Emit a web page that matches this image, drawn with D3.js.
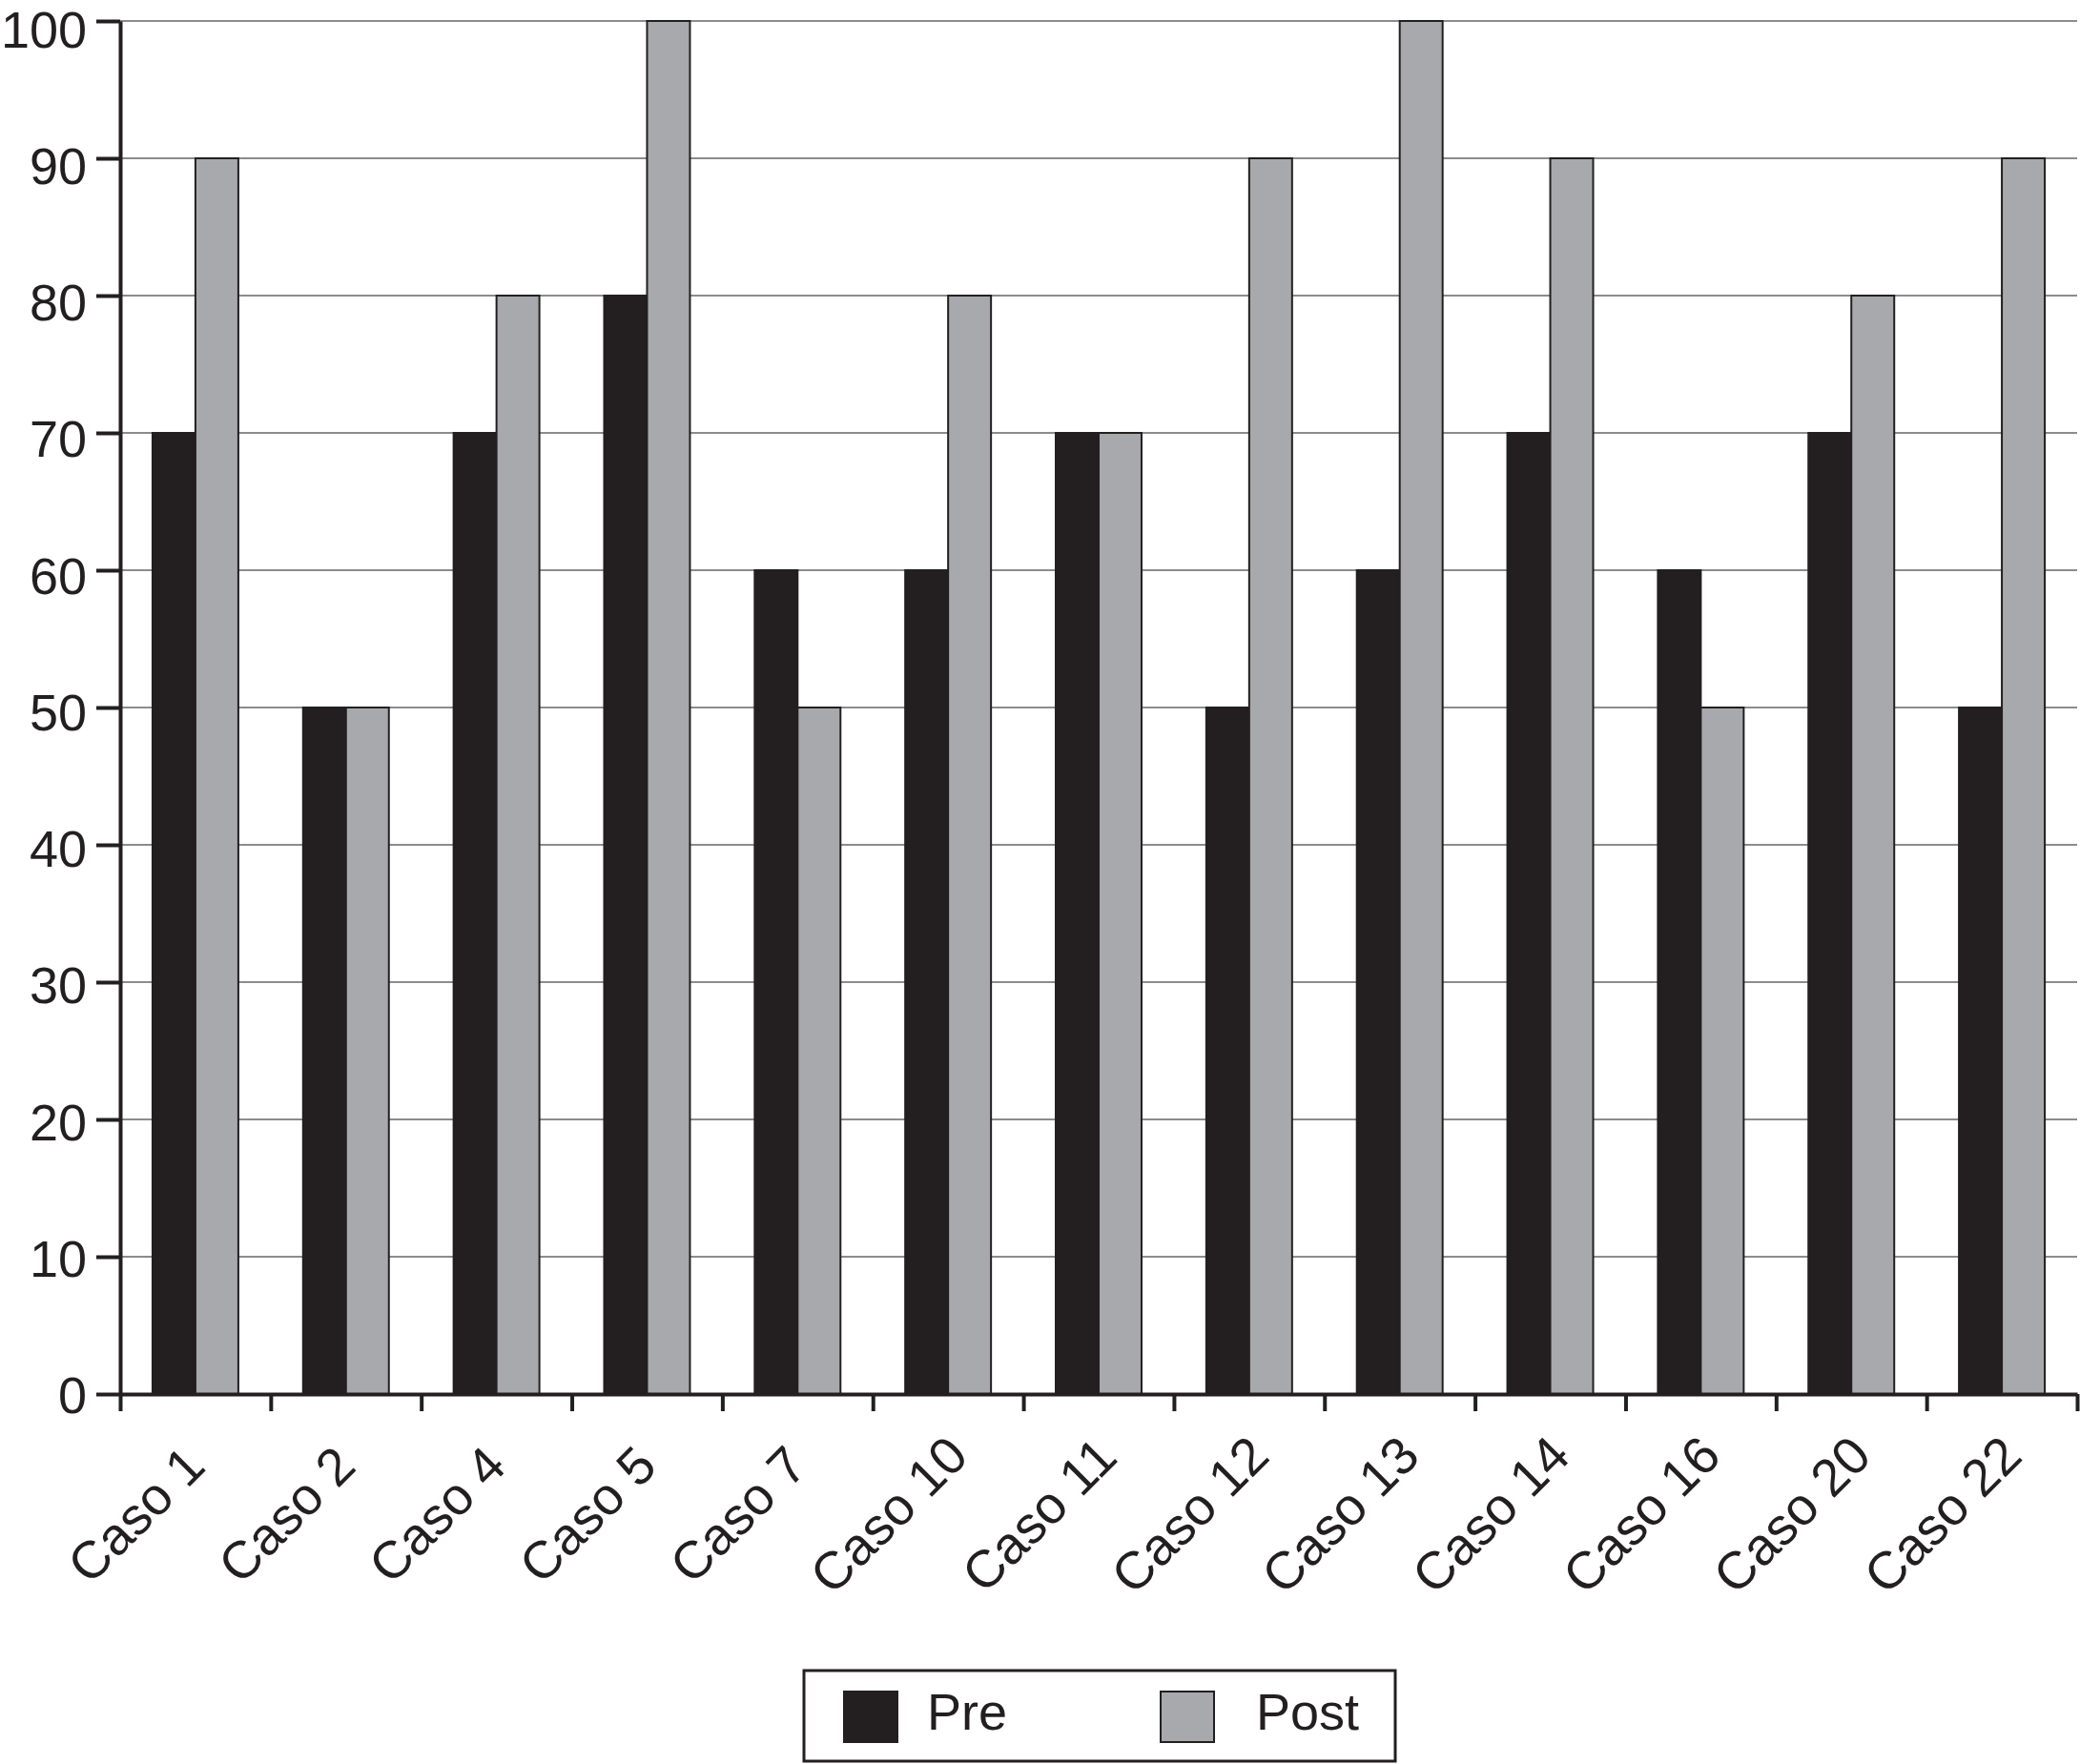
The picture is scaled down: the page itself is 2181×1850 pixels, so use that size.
<!DOCTYPE html>
<html>
<head>
<meta charset="utf-8">
<script src="https://cdn.jsdelivr.net/npm/d3@7"></script>
<style>
  html, body { margin: 0; padding: 0; background: #fff; }
  svg { display: block; }
  text { font-family: "Liberation Sans", Arial, Helvetica, sans-serif; fill: #231f20; }
</style>
</head>
<body>
<svg id="chart" width="2181" height="1850"></svg>
<script>
const categories = ["Caso 1","Caso 2","Caso 4","Caso 5","Caso 7","Caso 10","Caso 11","Caso 12","Caso 13","Caso 14","Caso 16","Caso 20","Caso 22"];
const preValues  = [70,50,70,80,60,60,70,50,60,70,60,70,50];
const postValues = [90,50,80,100,50,80,70,90,100,90,50,80,90];
const seriesNames = ["Pre","Post"];
const yTicks = [0,10,20,30,40,50,60,70,80,90,100];

(function () {
const colors = { Pre: "#231f20", Post: "#a7a9ac" };
const dark = "#231f20";

const svg = d3.select("#chart");
const mLeft = 126, mRight = 2178, mTop = 22, mBottom = 1462;

const y = d3.scaleLinear().domain([0, 100]).range([mBottom, mTop]);
const idx = d3.scaleLinear().domain([0, categories.length]).range([mLeft, mRight]);
const x0 = d3.scaleBand().domain(categories).range([mLeft, mRight]).paddingInner(0.43).paddingOuter(0.215);
const x1 = d3.scaleBand().domain(seriesNames).range([0, x0.bandwidth()]).padding(0);

// gridlines
svg.append("g")
  .selectAll("line")
  .data(yTicks.filter(d => d > 0))
  .join("line")
  .attr("x1", mLeft).attr("x2", mRight)
  .attr("y1", d => y(d)).attr("y2", d => y(d))
  .attr("stroke", "#8c8c8c")
  .attr("stroke-width", 2);

// bars
const rows = categories.map((c, i) => ({ cat: c, Pre: preValues[i], Post: postValues[i] }));
const groups = svg.append("g").selectAll("g")
  .data(rows)
  .join("g")
  .attr("transform", d => `translate(${x0(d.cat)},0)`);
groups.selectAll("rect")
  .data(d => seriesNames.map(s => ({ s, v: d[s] })))
  .join("rect")
  .attr("x", d => x1(d.s))
  .attr("y", d => y(d.v))
  .attr("width", x1.bandwidth())
  .attr("height", d => y(0) - y(d.v))
  .attr("fill", d => colors[d.s])
  .attr("stroke", dark)
  .attr("stroke-width", 2);

// y axis
const yAxis = svg.append("g")
  .attr("transform", `translate(${mLeft},0)`)
  .call(d3.axisLeft(y).tickValues(yTicks).tickSize(25).tickPadding(10).tickSizeOuter(0));
yAxis.select(".domain").attr("stroke", dark).attr("stroke-width", 4);
yAxis.selectAll(".tick line").attr("stroke", dark).attr("stroke-width", 4);
yAxis.selectAll(".tick text")
  .style("font-size", "54px")
  .attr("y", d => 19.5 + 0.075 * d)
  .attr("dy", null)
  .attr("fill", dark)
  .attr("font-family", "Liberation Sans, Arial, sans-serif");

// x axis (ticks at category boundaries)
const xAxis = svg.append("g")
  .attr("transform", `translate(0,${mBottom})`)
  .call(d3.axisBottom(idx).tickValues(d3.range(0, categories.length + 1)).tickSize(18).tickFormat("").tickSizeOuter(0));
xAxis.select(".domain").attr("stroke", dark).attr("stroke-width", 4);
xAxis.selectAll(".tick line").attr("stroke", dark).attr("stroke-width", 4);

// x labels
svg.append("g").selectAll("text")
  .data(categories)
  .join("text")
  .attr("transform", d => `translate(${x0(d) + x0.bandwidth() / 2 - 49},${mBottom + 140}) rotate(-45)`)
  .attr("text-anchor", "middle")
  .style("font-size", "55px")
  .text(d => d);

// legend
const lg = svg.append("g");
lg.append("rect")
  .attr("x", 843).attr("y", 1752).attr("width", 620).attr("height", 95)
  .attr("fill", "#fff").attr("stroke", dark).attr("stroke-width", 3);
const legendItems = seriesNames.map((s, i) => ({ s, sx: i === 0 ? 885 : 1217, tx: i === 0 ? 972 : 1317 }));
lg.selectAll("rect.sw")
  .data(legendItems)
  .join("rect")
  .attr("class", "sw")
  .attr("x", d => d.sx).attr("y", 1774)
  .attr("width", 56).attr("height", 53)
  .attr("fill", d => colors[d.s])
  .attr("stroke", dark).attr("stroke-width", 2);
lg.selectAll("text")
  .data(legendItems)
  .join("text")
  .attr("x", d => d.tx).attr("y", 1814)
  .style("font-size", "54px")
  .text(d => d.s);
})();
</script>
</body>
</html>
